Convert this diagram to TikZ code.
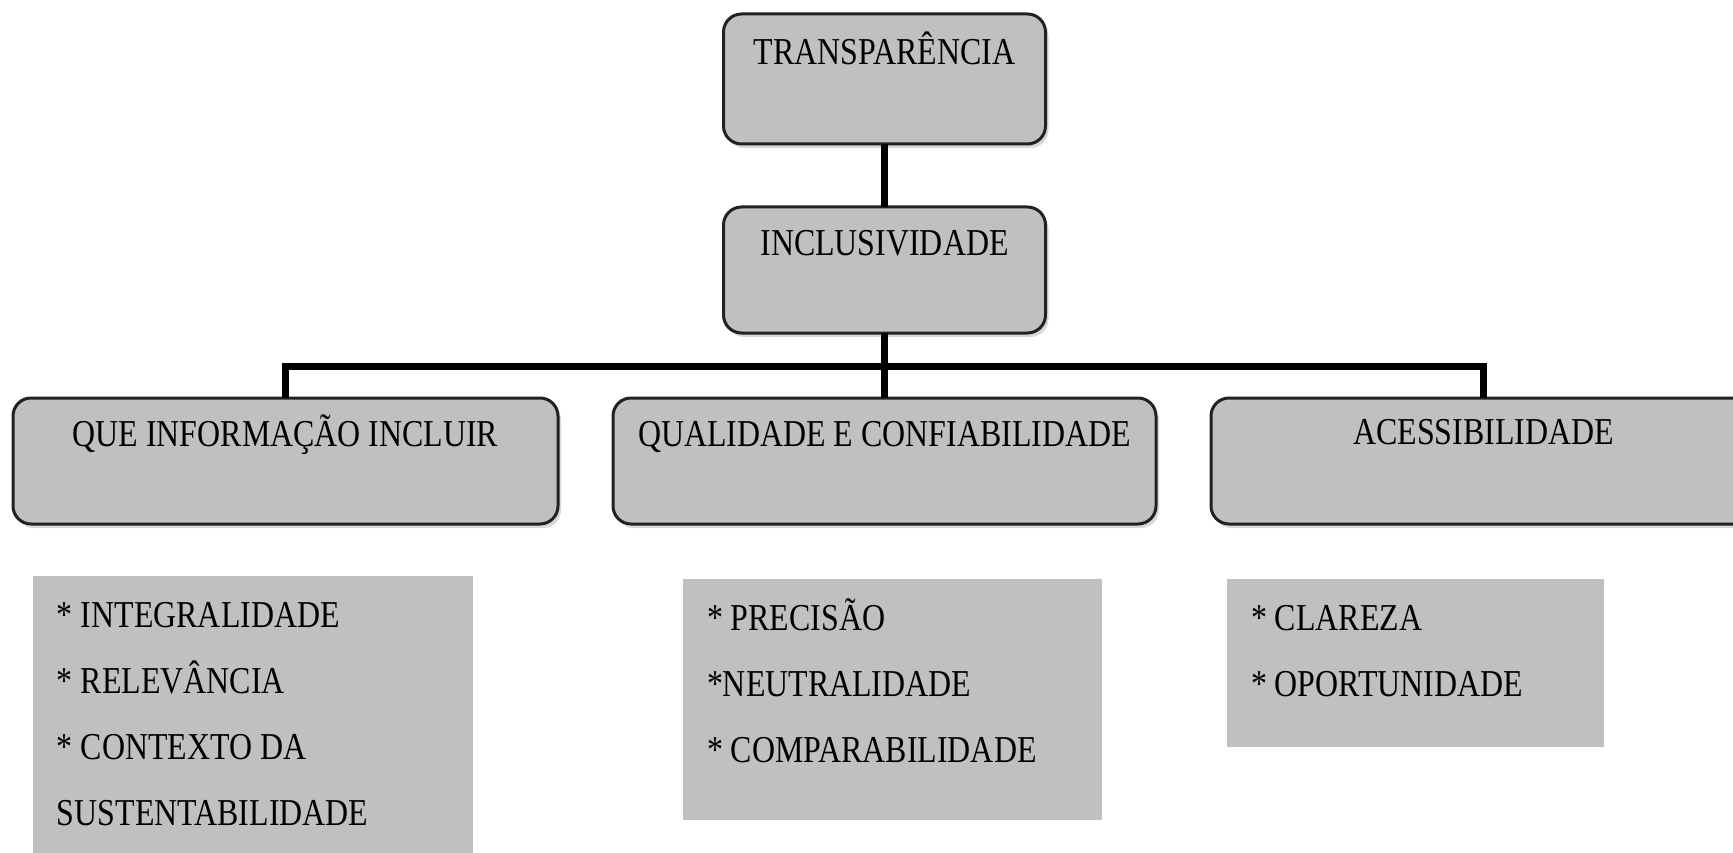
\documentclass[tikz,border=0pt]{standalone}
\usepackage{fontspec}
\setmainfont[FakeStretch=0.84]{Liberation Serif}
\usetikzlibrary{shadows}
\definecolor{boxgray}{HTML}{C0C0C0}
\definecolor{edgegray}{HTML}{222222}
\definecolor{shadgray}{HTML}{D8D8D8}
\newcommand{\topbox}[4]{\parbox[c][#2][t]{#1}{\centering\fontsize{38pt}{40pt}\selectfont\rule{0pt}{#3}#4}}
\newcommand{\listbox}[3]{\parbox[c][#2][t]{#1}{\raggedright\leftskip=24pt\fontsize{38pt}{66pt}\selectfont\rule{0pt}{51pt}#3}}
\tikzset{
  rbox/.style={draw=edgegray, line width=3pt, fill=boxgray, rounded corners=18pt, inner sep=0pt, outer sep=0pt,
    drop shadow={shadow xshift=3pt, shadow yshift=-4pt, fill=shadgray, opacity=1}},
  lbox/.style={fill=boxgray, draw=none, inner sep=0pt, outer sep=0pt},
  conn/.style={line width=7pt, black}
}
\begin{document}
\begin{tikzpicture}[x=1pt,y=-1pt]
\useasboundingbox (0,0) rectangle (1733,853);
\clip (0,0) rectangle (1733,853);
\fill[white] (0,0) rectangle (1733,853);
% levels 1 and 2
\node[rbox] (tr) at (884.5,79) {\topbox{322pt}{130pt}{51pt}{TRANSPARÊNCIA}};
\node[rbox] (inc) at (884.5,270) {\topbox{322pt}{126pt}{49pt}{INCLUSIVIDADE}};
% level 3
\node[rbox] (que) at (285.5,461) {\topbox{545pt}{126pt}{48pt}{QUE INFORMAÇÃO INCLUIR}};
\node[rbox] (qual) at (884.5,461) {\topbox{543pt}{126pt}{48pt}{QUALIDADE E CONFIABILIDADE}};
\node[rbox] (ace) at (1483.5,461) {\topbox{545pt}{126pt}{46pt}{ACESSIBILIDADE}};
% connectors
\coordinate (bar) at (884.5,366);
\draw[conn] (tr.south) -- (inc.north);
\draw[conn] (inc.south) -- (qual.north);
\draw[conn] (que.north) |- (bar) -| (ace.north);
% list boxes
\node[lbox] (l1) at (253,716) {\listbox{440pt}{280pt}{* INTEGRALIDADE\\{}* RELEVÂNCIA\\{}* CONTEXTO DA\\{}SUSTENTABILIDADE}};
\node[lbox] (l2) at (892.5,699.5) {\listbox{419pt}{241pt}{* PRECISÃO\\{}*NEUTRALIDADE\\{}* COMPARABILIDADE}};
\node[lbox] (l3) at (1415.5,663) {\listbox{377pt}{168pt}{* CLAREZA\\{}* OPORTUNIDADE}};
\end{tikzpicture}
\end{document}
